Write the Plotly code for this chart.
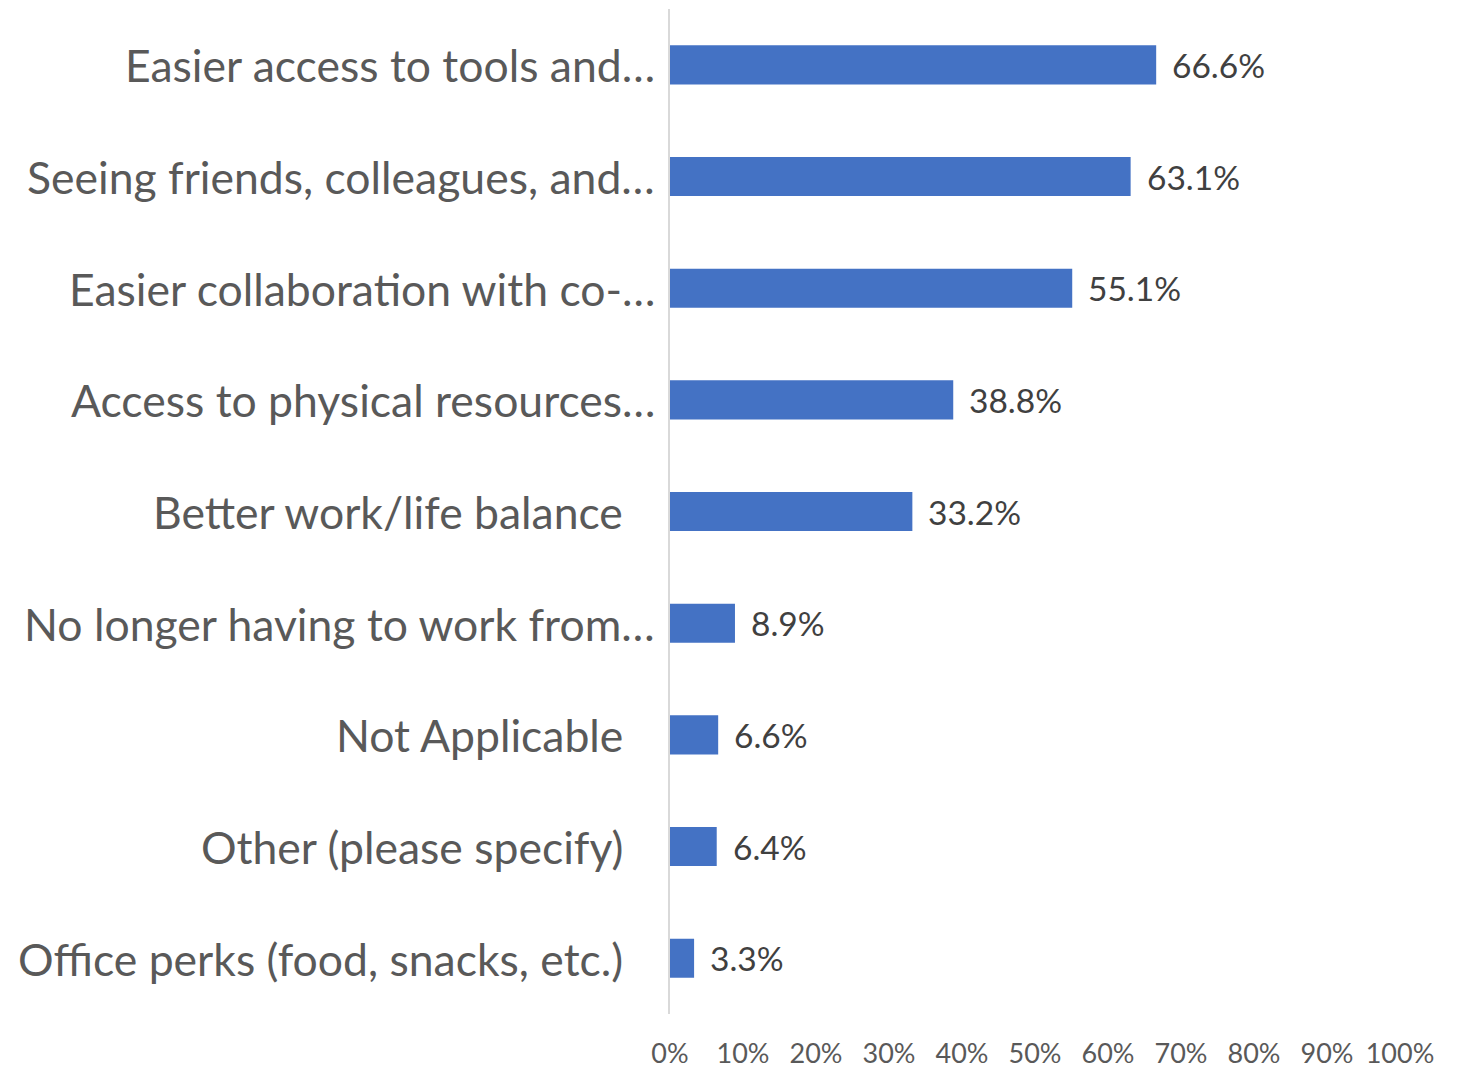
import plotly.graph_objects as go

# Survey responses: what people look forward to about returning to the office
categories = [
    "Easier access to tools and…",
    "Seeing friends, colleagues, and…",
    "Easier collaboration with co-…",
    "Access to physical resources…",
    "Better work/life balance",
    "No longer having to work from…",
    "Not Applicable",
    "Other (please specify)",
    "Office perks (food, snacks, etc.)",
]
values = [66.6, 63.1, 55.1, 38.8, 33.2, 8.9, 6.6, 6.4, 3.3]
tick_vals = [0, 10, 20, 30, 40, 50, 60, 70, 80, 90, 100]
tick_text = ["0%", "10%", "20%", "30%", "40%", "50%", "60%", "70%", "80%", "90%", "100%"]

FONT = "Lato"
BAR = "#4472C4"

fig = go.Figure(
    go.Bar(
        x=values,
        y=categories,
        orientation="h",
        marker=dict(color=BAR, line=dict(width=0)),
        width=0.35,
        hoverinfo="skip",
    )
)

annotations = []
for cat, v in zip(categories, values):
    truncated = cat.endswith("…")
    # category label, right-aligned next to the axis
    annotations.append(dict(
        x=-0.018 if truncated else -0.062, xref="paper", y=cat, yref="y",
        text=cat, showarrow=False, xanchor="right", yanchor="middle",
        font=dict(family=FONT, size=44.5, color="#595959"),
    ))
    # value label at the end of each bar
    annotations.append(dict(
        x=v, xref="x", y=cat, yref="y", text=f"{v:.1f}%", showarrow=False,
        xanchor="left", yanchor="middle", xshift=14,
        font=dict(family=FONT, size=33.5, color="#404040"),
    ))

fig.update_layout(
    width=1465, height=1068,
    margin=dict(l=670, r=65, t=9, b=54),
    paper_bgcolor="white", plot_bgcolor="white",
    showlegend=False,
    annotations=annotations,
    xaxis=dict(
        range=[0, 100], tickvals=tick_vals, ticktext=tick_text,
        showgrid=False, zeroline=False, showline=False, ticks="",
        ticklabelstandoff=21, automargin=False,
        tickfont=dict(family=FONT, size=27, color="#595959"),
    ),
    yaxis=dict(
        autorange="reversed", showticklabels=False, showgrid=False,
        zeroline=False, showline=True, linecolor="#d9d9d9", linewidth=2,
        ticks="", automargin=False,
    ),
)

fig.write_html("out.html")
